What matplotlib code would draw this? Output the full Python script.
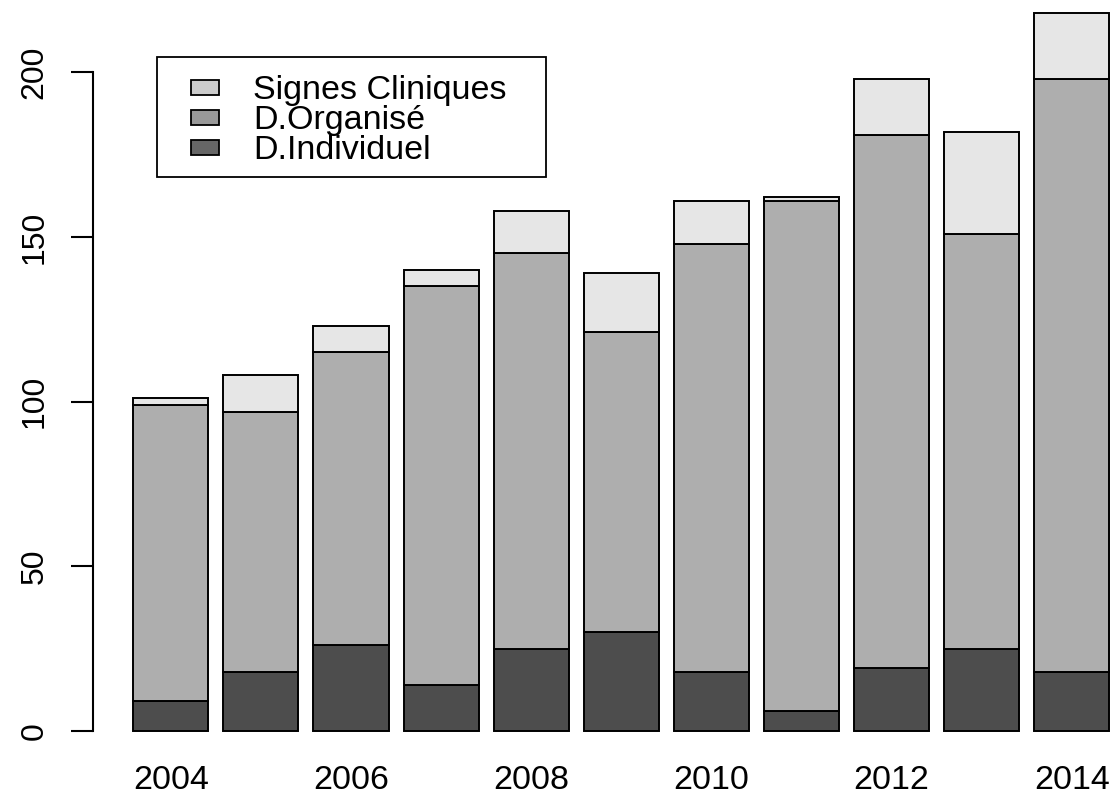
import matplotlib
matplotlib.use("Agg")
import matplotlib.pyplot as plt
from matplotlib.patches import Rectangle
import numpy as np

# ---- data ----
years = [2004, 2005, 2006, 2007, 2008, 2009, 2010, 2011, 2012, 2013, 2014]
individuel = [9, 18, 26, 14, 25, 30, 18, 6, 19, 25, 18]
organise = [90, 79, 89, 121, 120, 91, 130, 155, 162, 126, 180]
signes = [2, 11, 8, 5, 13, 18, 13, 1, 17, 31, 20]
series_labels = ["Signes Cliniques", "D.Organisé", "D.Individuel"]
y_ticks = [0, 50, 100, 150, 200]
x_label_years = [2004, 2006, 2008, 2010, 2012, 2014]

bar_colors = {"ind": "#4D4D4D", "org": "#AEAEAE", "sig": "#E6E6E6"}
legend_colors = ["#CCCCCC", "#999999", "#666666"]

W, H = 1115, 796
DPI = 100
plt.rcParams["font.family"] = ["Liberation Sans", "DejaVu Sans"]

fig = plt.figure(figsize=(W / DPI, H / DPI), dpi=DPI)
fig.patch.set_facecolor("white")

# axes region in pixels
ax_left, ax_right, ax_top, ax_bottom = 93, 1115, 0, 759.7
ax = fig.add_axes([ax_left / W, (H - ax_bottom) / H,
                   (ax_right - ax_left) / W, (ax_bottom - ax_top) / H])

# R barplot geometry: width 1, space 0.2
x = 0.7 + 1.2 * np.arange(len(years))
ind = np.array(individuel)
org = np.array(organise)
sig = np.array(signes)
kw = dict(width=1.0, edgecolor="black", linewidth=1.4, align="center")
ax.bar(x, ind, color=bar_colors["ind"], **kw)
ax.bar(x, org, bottom=ind, color=bar_colors["org"], **kw)
ax.bar(x, sig, bottom=ind + org, color=bar_colors["sig"], **kw)

ax.set_xlim(-0.336, 13.276)
ax.set_ylim(-8.72, 221.96)

for s in ["top", "right", "bottom"]:
    ax.spines[s].set_visible(False)
ax.spines["left"].set_bounds(0, 200)
ax.spines["left"].set_linewidth(1.5)

ax.set_yticks(y_ticks)
ax.set_yticklabels([str(v) for v in y_ticks], rotation=90, va="center")
ax.tick_params(axis="y", length=15.5, width=1.5, pad=16, labelsize=23)

xpos = [x[years.index(yv)] for yv in x_label_years]
ax.set_xticks(xpos)
ax.set_xticklabels([str(v) for v in x_label_years])
ax.tick_params(axis="x", length=0, pad=4, labelsize=24.5)

# ---- legend (R style) ----
def fx(px):
    return px / W

def fy(py):
    return 1 - py / H

frame = Rectangle((fx(157), fy(177)), fx(546) - fx(157), fy(57) - fy(177),
                  transform=fig.transFigure, facecolor="white",
                  edgecolor="black", linewidth=1.3, zorder=5)
fig.patches.append(frame)
rows = [87, 117, 147]
for lab, col, cy in zip(series_labels, legend_colors, rows):
    sq = Rectangle((fx(191), fy(cy + 7.5)), fx(219) - fx(191), fy(cy - 7.5) - fy(cy + 7.5),
                   transform=fig.transFigure, facecolor=col,
                   edgecolor="black", linewidth=1.3, zorder=6)
    fig.patches.append(sq)
    fig.text(fx(253), fy(cy + 12), lab, fontsize=24.5, va="baseline",
             ha="left", zorder=7)

fig.savefig("out.png", dpi=DPI)
